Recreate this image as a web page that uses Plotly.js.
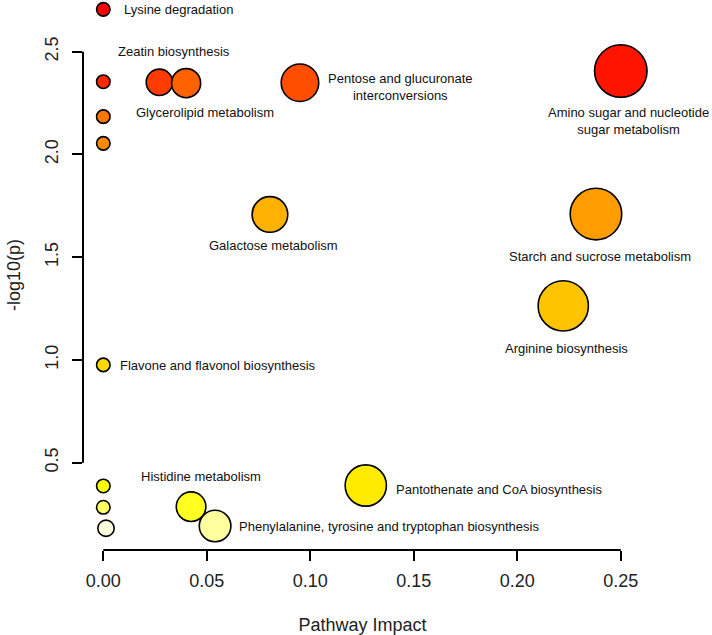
<!DOCTYPE html>
<html><head><meta charset="utf-8">
<script src="https://cdn.plot.ly/plotly-3.0.1.min.js"></script>
<style>html,body{margin:0;padding:0;background:#fff}#chart{width:712px;height:635px}</style>
</head><body><div id="chart"></div>
<script>
// ---- data ----
const pathways = [
  "Lysine degradation",
  "Amino sugar and nucleotide<br>sugar metabolism",
  "",
  "Zeatin biosynthesis",
  "Pentose and glucuronate<br>interconversions",
  "Glycerolipid metabolism",
  "",
  "",
  "Starch and sucrose metabolism",
  "Galactose metabolism",
  "Arginine biosynthesis",
  "Flavone and flavonol biosynthesis",
  "Pantothenate and CoA biosynthesis",
  "",
  "Histidine metabolism",
  "",
  "Phenylalanine, tyrosine and tryptophan biosynthesis",
  ""
];
const impact  = [0, 0.250, 0, 0.0271, 0.0950, 0.0400, 0, 0, 0.2380, 0.0805, 0.2222, 0, 0.1268, 0, 0.0424, 0, 0.0540, 0.0013];
const negLogP = [2.706, 2.406, 2.354, 2.351, 2.349, 2.347, 2.184, 2.054, 1.710, 1.708, 1.263, 0.976, 0.389, 0.387, 0.286, 0.283, 0.192, 0.181];
const xTicks = [0, 0.05, 0.10, 0.15, 0.20, 0.25];
const yTicks = [0.5, 1.0, 1.5, 2.0, 2.5];

// ---- label placement (pixel offsets from bubble centre) ----
const labelPlace = {
  "Lysine degradation": {dx: 19, dy: 0, anchor: "left"},
  "Amino sugar and nucleotide<br>sugar metabolism": {dx: 7.5, dy: -50, anchor: "center"},
  "Zeatin biosynthesis": {dx: 15, dy: 30.5, anchor: "center"},
  "Pentose and glucuronate<br>interconversions": {dx: 101, dy: -4, anchor: "center"},
  "Glycerolipid metabolism": {dx: 19, dy: -29.5, anchor: "center"},
  "Starch and sucrose metabolism": {dx: 4.3, dy: -42.4, anchor: "center"},
  "Galactose metabolism": {dx: 4, dy: -31.4, anchor: "center"},
  "Arginine biosynthesis": {dx: 3.4, dy: -43, anchor: "center"},
  "Flavone and flavonol biosynthesis": {dx: 14.6, dy: -0.7, anchor: "left"},
  "Pantothenate and CoA biosynthesis": {dx: 28.5, dy: -3.5, anchor: "left"},
  "Histidine metabolism": {dx: 10, dy: 30, anchor: "center"},
  "Phenylalanine, tyrosine and tryptophan biosynthesis": {dx: 22.3, dy: -0.7, anchor: "left"}
};

// R's heat.colors(n)
function heatColors(n) {
  const j = Math.floor(n / 4), i = n - j, out = [];
  const hex = v => Math.round(v * 255).toString(16).padStart(2, "0").toUpperCase();
  for (let k = 0; k < i; k++) {
    const h = (i === 1) ? 0 : (k / (i - 1)) * (1 / 6);
    out.push("#FF" + hex(h * 6) + "00");
  }
  for (let k = 0; k < j; k++) {
    const s = (j === 1) ? 0.5 : (1 - 1 / (2 * j)) + k * ((1 / (2 * j)) - (1 - 1 / (2 * j))) / (j - 1);
    out.push("#FFFF" + hex(1 - s));
  }
  return out;
}
const pal = heatColors(negLogP.length);
const order = negLogP.map((v, i) => i).sort((a, b) => negLogP[b] - negLogP[a]);
const colors = new Array(negLogP.length);
order.forEach((idx, rank) => { colors[idx] = pal[rank]; });
const sizes = impact.map(v => 13.5 + 78 * Math.sqrt(v));

const trace = {
  type: "scatter", mode: "markers",
  x: impact, y: negLogP,
  text: pathways.map(s => s.replace("<br>", " ")),
  hoverinfo: "text+x+y",
  cliponaxis: false,
  marker: {size: sizes, sizemode: "diameter", color: colors, line: {color: "#000", width: 1.6}, opacity: 1}
};

const annotations = [];
pathways.forEach((name, i) => {
  if (!name) return;
  const p = labelPlace[name];
  annotations.push({
    x: impact[i], y: negLogP[i], xref: "x", yref: "y",
    text: name, showarrow: false,
    xanchor: p.anchor, yanchor: "middle", align: "center",
    xshift: p.dx, yshift: p.dy,
    font: {family: "Liberation Sans, Arial, sans-serif", size: 13, color: "#111"}
  });
});

const axFont = {family: "Liberation Sans, Arial, sans-serif", size: 18, color: "#222"};
const layout = {
  width: 712, height: 635,
  margin: {l: 83, r: 70, t: 0, b: 85},
  paper_bgcolor: "#fff", plot_bgcolor: "#fff",
  showlegend: false,
  xaxis: {
    range: [-0.00981, 0.26024], tickvals: xTicks, tickformat: ".2f",
    ticks: "outside", ticklen: 10, tickwidth: 2, tickcolor: "#000",
    ticklabelstandoff: 4,
    showline: false, showgrid: false, zeroline: false,
    tickfont: axFont,
    title: {text: "Pathway Impact", font: axFont, standoff: 28}
  },
  yaxis: {
    range: [0.0752, 2.7516], tickvals: yTicks, tickformat: ".1f", tickangle: -90,
    ticks: "outside", ticklen: 10, tickwidth: 2, tickcolor: "#000",
    ticklabelstandoff: 7,
    showline: false, showgrid: false, zeroline: false,
    tickfont: axFont,
    title: {text: "-log10(p)", font: axFont, standoff: 16}
  },
  shapes: [
    {type: "line", xref: "x", yref: "paper", x0: xTicks[0], x1: xTicks[xTicks.length - 1], y0: 0, y1: 0, line: {color: "#000", width: 2}},
    {type: "line", xref: "paper", yref: "y", x0: 0, x1: 0, y0: yTicks[0], y1: yTicks[yTicks.length - 1], line: {color: "#000", width: 2}}
  ],
  annotations: annotations
};

Plotly.newPlot("chart", [trace], layout, {displayModeBar: false, staticPlot: true});
</script>
</body></html>
